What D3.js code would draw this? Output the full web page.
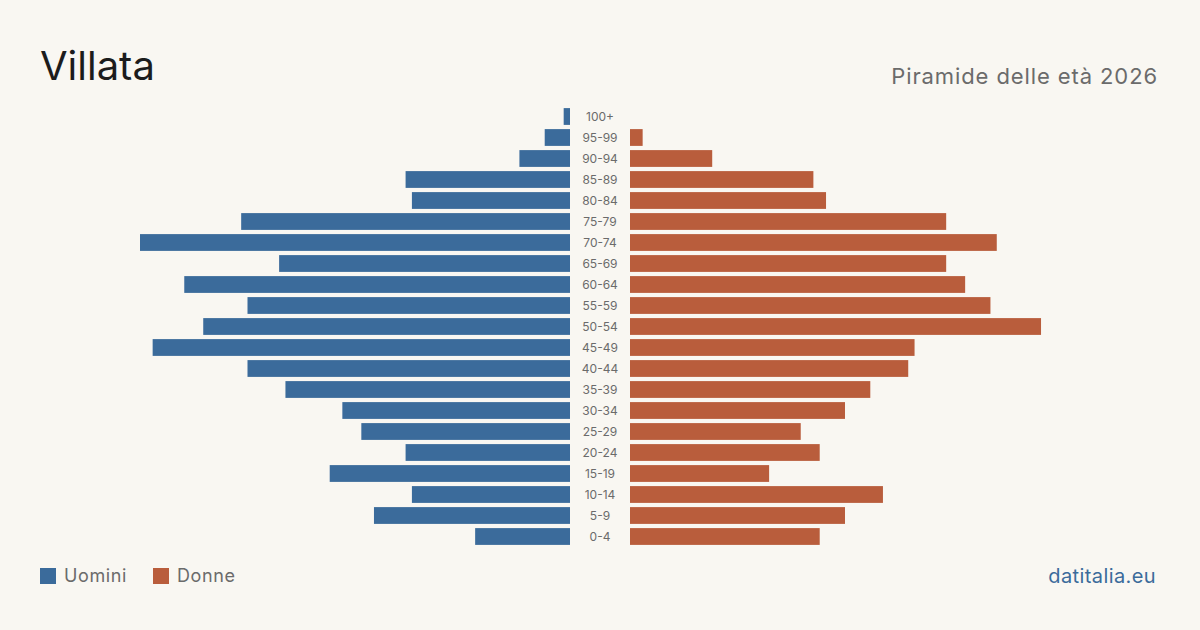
<!DOCTYPE html>
<html lang="it">
<head>
<meta charset="UTF-8">
<title>Villata</title>
<script src="https://cdn.jsdelivr.net/npm/d3@7"></script>
<style>
  body { margin: 0; background: #f9f7f2; }
  svg { display: block; font-family: Inter, "Noto Sans", sans-serif; }
</style>
</head>
<body>
<svg id="chart" width="1200" height="630"></svg>
<script>
// fasce d'età, dall'alto verso il basso
const ageGroups = ["100+", "95-99", "90-94", "85-89", "80-84", "75-79", "70-74", "65-69",
  "60-64", "55-59", "50-54", "45-49", "40-44", "35-39", "30-34", "25-29", "20-24",
  "15-19", "10-14", "5-9", "0-4"];
const uomini = [1, 4, 8, 26, 25, 52, 68, 46, 61, 51, 58, 66, 51, 45, 36, 33, 26, 38, 25, 31, 15];
const donne  = [0, 2, 13, 29, 31, 50, 58, 50, 53, 57, 65, 45, 44, 38, 34, 27, 30, 22, 40, 34, 30];

const blue = "#3b6b9b";
const red = "#b95d3c";
const W = 1200, H = 630;
const svg = d3.select("#chart");

svg.append("rect").attr("width", W).attr("height", H).attr("fill", "#f9f7f2");

const maxVal = d3.max(uomini.concat(donne));
const xLeft = d3.scaleLinear().domain([0, maxVal]).range([570, 140]);
const xRight = d3.scaleLinear().domain([0, maxVal]).range([630, 1060]);
const y = d3.scaleBand().domain(ageGroups).range([106, 547])
  .paddingInner(0.2).paddingOuter(0.1);

svg.append("g").selectAll("rect")
  .data(ageGroups)
  .join("rect")
  .attr("x", (d, i) => xLeft(uomini[i]))
  .attr("y", d => y(d))
  .attr("width", (d, i) => xLeft(0) - xLeft(uomini[i]))
  .attr("height", y.bandwidth())
  .attr("fill", blue);

svg.append("g").selectAll("rect")
  .data(ageGroups)
  .join("rect")
  .attr("x", xRight(0))
  .attr("y", d => y(d))
  .attr("width", (d, i) => xRight(donne[i]) - xRight(0))
  .attr("height", y.bandwidth())
  .attr("fill", red);

svg.append("g").selectAll("text")
  .data(ageGroups)
  .join("text")
  .attr("x", 600)
  .attr("y", d => y(d) + y.bandwidth() / 2)
  .attr("dy", "0.35em")
  .attr("text-anchor", "middle")
  .attr("font-size", 12)
  .attr("fill", "#6b6b6b")
  .text(d => d);

// titolo
svg.append("text").attr("x", 40).attr("y", 80)
  .attr("font-size", 40).attr("fill", "#1c1c1c").text("Villata");
svg.append("text").attr("x", 1158).attr("y", 84)
  .attr("text-anchor", "end").attr("font-size", 22).attr("fill", "#6b6b6b")
  .attr("letter-spacing", 0.9)
  .text("Piramide delle età 2026");

// legenda
const legend = [{ label: "Uomini", color: blue, x: 40 }, { label: "Donne", color: red, x: 153 }];
const lg = svg.append("g").selectAll("g").data(legend).join("g")
  .attr("transform", d => `translate(${d.x},568)`);
lg.append("rect").attr("width", 16).attr("height", 16).attr("fill", d => d.color);
lg.append("text").attr("x", 24).attr("y", 8).attr("dy", "0.35em")
  .attr("font-size", 18).attr("fill", "#6b6b6b").attr("letter-spacing", 0.6)
  .text(d => d.label);

svg.append("text").attr("x", 1156).attr("y", 583)
  .attr("text-anchor", "end").attr("font-size", 20).attr("fill", blue)
  .attr("letter-spacing", 0.4)
  .text("datitalia.eu");
</script>
</body>
</html>
